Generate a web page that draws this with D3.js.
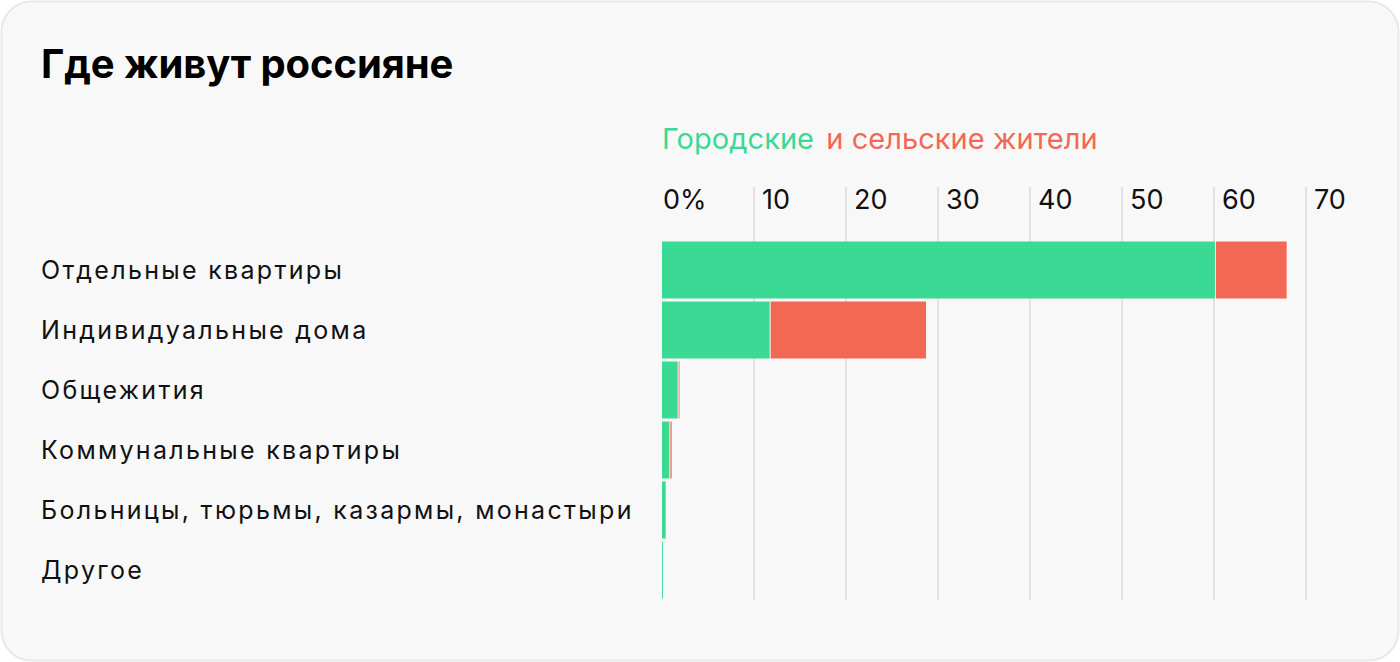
<!DOCTYPE html>
<html><head><meta charset="utf-8">
<script src="https://cdn.jsdelivr.net/npm/d3@7"></script>
<style>
html,body{margin:0;padding:0;background:#fff;}
svg{display:block;font-family:Inter, "Noto Sans", sans-serif;}
</style></head><body>
<svg id="c" width="1400" height="662"></svg>
<script>
const categories = ["Отдельные квартиры","Индивидуальные дома","Общежития","Коммунальные квартиры","Больницы, тюрьмы, казармы, монастыри","Другое"];
const urban = [60.1, 11.7, 1.7, 0.8, 0.4, 0.1];
const rural = [7.8, 17.0, 0.2, 0.25, 0.1, 0.02];
const tickValues = [0,10,20,30,40,50,60,70];
const tickLabels = ["0%","10","20","30","40","50","60","70"];
const title = "Где живут россияне";
const legendUrban = "Городские";
const legendRural = "и сельские жители";

const GREEN = "#3ad994", RED = "#f26854";
const svg = d3.select("#c");
svg.append("rect").attr("x",1.5).attr("y",1.5).attr("width",1397).attr("height",659)
  .attr("rx",30).attr("fill","#f8f8f8").attr("stroke","#e8e8e8").attr("stroke-width",2);

svg.append("text").attr("x",41).attr("y",78).attr("font-size",40).attr("font-weight",700)
  .attr("letter-spacing",-0.1).attr("fill","#000").text(title);

const x = d3.scaleLinear().domain([0,70]).range([662,1306]);
const y = d3.scaleBand().domain(categories).range([240,600]).paddingInner(0.05).paddingOuter(0.025);

const leg = svg.append("text").attr("x",662).attr("y",149).attr("font-size",29).attr("letter-spacing",0.05);
leg.append("tspan").attr("fill",GREEN).text(legendUrban);
leg.append("tspan").attr("fill",RED).attr("dx",4).text(" " + legendRural);

// grid
svg.append("g").selectAll("line").data(tickValues.filter(d=>d>0)).join("line")
  .attr("x1",d=>x(d)).attr("x2",d=>x(d)).attr("y1",187).attr("y2",600)
  .attr("stroke","#e2e2e2").attr("stroke-width",2);
svg.append("g").selectAll("text").data(tickValues).join("text")
  .attr("x",(d,i)=> d===0 ? x(d)+1 : x(d)+8).attr("y",209).attr("font-size",27).attr("fill","#111")
  .text((d,i)=>tickLabels[i]);

// bars
const rows = svg.append("g").selectAll("g").data(categories).join("g");
rows.append("rect").attr("x",x(0)).attr("y",d=>y(d)).attr("height",y.bandwidth())
  .attr("width",(d,i)=>x(urban[i])-x(0)).attr("fill",GREEN);
rows.append("rect").attr("x",(d,i)=>x(urban[i])+1).attr("y",d=>y(d)).attr("height",y.bandwidth())
  .attr("width",(d,i)=>Math.max(0,x(urban[i]+rural[i])-x(urban[i])-1)).attr("fill",RED);

svg.append("g").selectAll("text").data(categories).join("text")
  .attr("x",41).attr("y",d=>y(d)+y.bandwidth()/2+9).attr("font-size",25).attr("letter-spacing",2.3).attr("fill","#111")
  .text(d=>d);
</script>
</body></html>
